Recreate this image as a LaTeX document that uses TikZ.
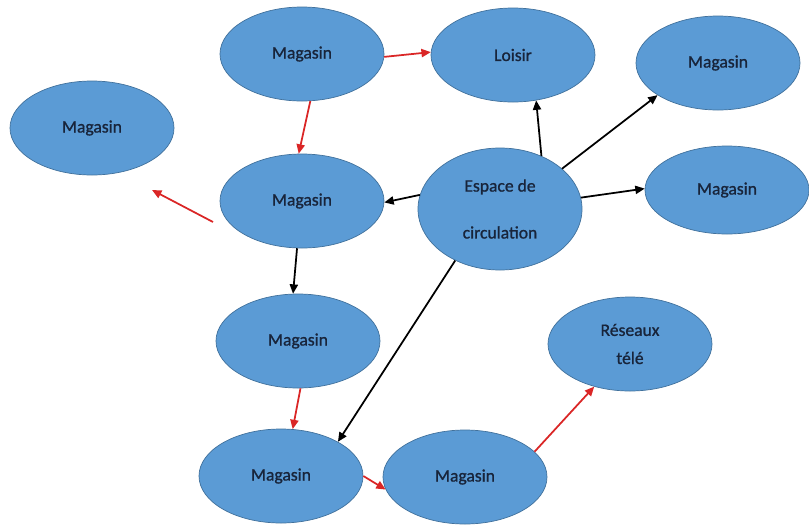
\documentclass[tikz,border=0pt]{standalone}
\usepackage{fontspec}
\setmainfont{Carlito}[FakeBold=1]
\usepackage{xcolor}
\usetikzlibrary{arrows.meta,positioning,shapes.geometric}
\definecolor{bubble}{RGB}{91,155,213}
\definecolor{rim}{RGB}{65,113,156}
\definecolor{ink}{RGB}{24,36,58}
\definecolor{flow}{RGB}{218,38,38}

\begin{document}
\begin{tikzpicture}[
    zone/.style={ellipse, draw=rim, fill=bubble, line width=0.6pt,
                 minimum width=4.92cm, minimum height=2.82cm, inner sep=0pt,
                 font=\fontsize{15}{17}\selectfont, text=ink, align=center},
    redarr/.style={-{Triangle[length=8pt,width=7pt]}, line width=1.5pt, flow},
    blkarr/.style={-{Triangle[length=8pt,width=7pt]}, line width=1.5pt, black}]

    \useasboundingbox (0,0) rectangle (24.27,-15.81);

    % ellipses
    \node[zone] (mleft)  at (2.76,-3.84)  {Magasin};
    \node[zone] (mtop)   at (9.06,-1.62)  {Magasin};
    \node[zone] (loisir) at (15.39,-1.65) {Loisir};
    \node[zone] (mtr)    at (21.54,-1.89) {Magasin};
    \node[zone] (mmid)   at (9.06,-6.03)  {Magasin};
    \node[zone, minimum height=3.66cm,
          font=\fontsize{15}{40}\selectfont] (espace) at (15.00,-6.27) {Espace de\\circulation};
    \node[zone, minimum height=2.64cm] (mright) at (21.81,-5.70) {Magasin};
    \node[zone] (mlow)   at (8.94,-10.23) {Magasin};
    \node[zone] (mbl)    at (8.43,-14.28) {Magasin};
    \node[zone] (mbot)   at (13.95,-14.31) {Magasin};
    \node[zone, font=\fontsize{15}{24}\selectfont] (reseau) at (18.90,-10.32) {Réseaux\\télé};

    % free arrow on the left
    \coordinate (freeA) at (6.39,-6.66);
    \coordinate (freeB) at (4.56,-5.70);

    % red connectors
    \draw[redarr] (mtop.-2) -- (loisir.178);
    \draw[redarr] (mtop.-80) -- (mmid.94);
    \draw[redarr] (freeA) -- (freeB);
    \draw[redarr] (mlow.-87) -- (mbl.76);
    \draw[redarr] (mbl.0) -- (mbot.-171);
    \draw[redarr] (mbot.20) -- (reseau.-130);

    % black connectors
    \draw[blkarr] (espace.170) -- (mmid.-1);
    \draw[blkarr] (espace.52) -- (loisir.-63);
    \draw[blkarr] (espace.33) -- (mtr.-152);
    \draw[blkarr] (espace.8) -- (mright.179);
    \draw[blkarr] (mmid.-96) -- (mlow.96);
    \draw[blkarr] (espace.-131) -- (mbl.31);
\end{tikzpicture}
\end{document}
